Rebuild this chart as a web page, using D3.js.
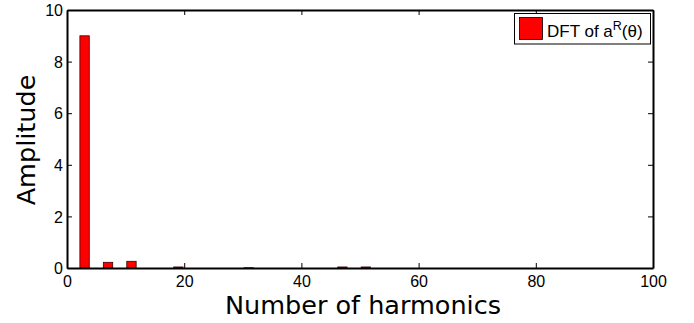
<!DOCTYPE html>
<html>
<head>
<meta charset="utf-8">
<script src="https://cdn.jsdelivr.net/npm/d3@7/dist/d3.min.js"></script>
<style>
  html, body { margin: 0; padding: 0; background: #fff; }
  svg { display: block; }
</style>
</head>
<body>
<div id="chart"></div>
<script>
// harmonics (odd orders) and their DFT amplitude
const harmonics = [1, 3, 5, 7, 9, 11, 13, 15, 17, 19, 21, 23, 25, 27, 29, 31, 33, 35, 37, 39,
  41, 43, 45, 47, 49, 51, 53, 55, 57, 59, 61, 63, 65, 67, 69, 71, 73, 75, 77, 79,
  81, 83, 85, 87, 89, 91, 93, 95, 97, 99];
const amplitude = [0, 9.0, 0, 0.22, 0, 0.26, 0, 0, 0, 0.04, 0, 0, 0, 0, 0, 0.01, 0, 0, 0, 0,
  0, 0, 0, 0.04, 0, 0.04, 0, 0, 0, 0, 0, 0, 0, 0, 0, 0, 0, 0, 0, 0,
  0, 0, 0, 0, 0, 0, 0, 0, 0, 0];
const xTicks = [0, 20, 40, 60, 80, 100];
const yTicks = [0, 2, 4, 6, 8, 10];
const seriesName = 'DFT of a';

const width = 694, height = 323;
const margin = { top: 10, right: 41, bottom: 55, left: 67 };
const plotW = width - margin.left - margin.right;
const plotH = height - margin.top - margin.bottom;

const svg = d3.select('#chart').append('svg')
  .attr('width', width).attr('height', height);

const x = d3.scaleLinear().domain([0, 100]).range([margin.left, margin.left + plotW]);
const y = d3.scaleLinear().domain([0, 10]).range([margin.top + plotH, margin.top]);

const barW = x(1.6) - x(0);

// bars
svg.append('g')
  .selectAll('rect')
  .data(harmonics.map((h, i) => ({ h, v: amplitude[i] })))
  .join('rect')
  .attr('x', d => x(d.h) - barW / 2)
  .attr('y', d => y(d.v))
  .attr('width', barW)
  .attr('height', d => y(0) - y(d.v))
  .attr('fill', '#ff0000')
  .attr('stroke', '#3a0000')
  .attr('stroke-width', 0.8);

// axes: ticks inside, on all four sides
const tickLen = 5;
const axisFont = '"Liberation Sans", Arial, sans-serif';

const axBottom = svg.append('g').attr('transform', `translate(0,${y(0)})`)
  .call(d3.axisBottom(x).tickValues(xTicks).tickSizeInner(-tickLen).tickSizeOuter(0).tickPadding(8));
const axLeft = svg.append('g').attr('transform', `translate(${x(0)},0)`)
  .call(d3.axisLeft(y).tickValues(yTicks).tickSizeInner(-tickLen).tickSizeOuter(0).tickPadding(4));
const axTop = svg.append('g').attr('transform', `translate(0,${y(10)})`)
  .call(d3.axisTop(x).tickValues(xTicks).tickSizeInner(-tickLen).tickSizeOuter(0).tickFormat(''));
const axRight = svg.append('g').attr('transform', `translate(${x(100)},0)`)
  .call(d3.axisRight(y).tickValues(yTicks).tickSizeInner(-tickLen).tickSizeOuter(0).tickFormat(''));

[axBottom, axLeft, axTop, axRight].forEach(a => {
  a.select('.domain').attr('stroke', '#000').attr('stroke-width', 2);
  a.selectAll('.tick line').attr('stroke', '#000').attr('stroke-width', 1);
  a.selectAll('.tick text').attr('fill', '#000')
    .style('font-family', axisFont).style('font-size', '16px');
});
axLeft.selectAll('.tick text').attr('dy', '0.36em');

// axis titles
const titleFont = '"DejaVu Sans", Verdana, sans-serif';
svg.append('text')
  .attr('x', 363).attr('y', 314)
  .attr('text-anchor', 'middle')
  .style('font-family', titleFont).style('font-size', '25.5px')
  .text('Number of harmonics');

svg.append('text')
  .attr('transform', `translate(35,140) rotate(-90)`)
  .attr('text-anchor', 'middle')
  .style('font-family', titleFont).style('font-size', '25.5px')
  .text('Amplitude');

// legend
const lg = svg.append('g');
lg.append('rect')
  .attr('x', 514.5).attr('y', 13.5).attr('width', 136).attr('height', 30.5)
  .attr('fill', '#fff').attr('stroke', '#000').attr('stroke-width', 1);
lg.append('rect')
  .attr('x', 519.5).attr('y', 17.5).attr('width', 23).attr('height', 22)
  .attr('fill', '#ff0000').attr('stroke', '#000').attr('stroke-width', 0.8);
const lt = lg.append('text')
  .attr('x', 547).attr('y', 37)
  .style('font-family', axisFont).style('font-size', '17px');
lt.append('tspan').text(seriesName);
lt.append('tspan').attr('dy', -7).style('font-size', '12.5px').text('R');
lt.append('tspan').attr('dy', 7).text('(θ)');
</script>
</body>
</html>
